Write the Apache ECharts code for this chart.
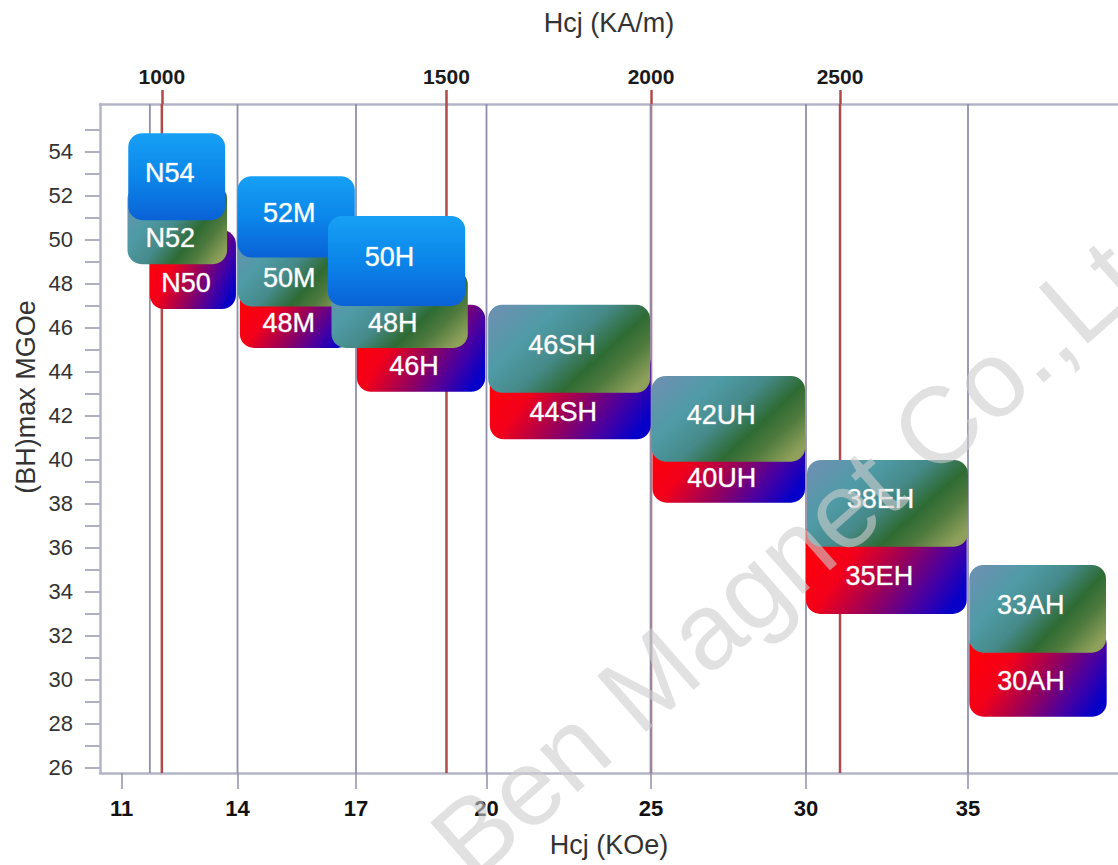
<!DOCTYPE html>
<html>
<head>
<meta charset="utf-8">
<script src="https://cdn.jsdelivr.net/npm/echarts@6/dist/echarts.min.js"></script>
<style>
  html, body { margin: 0; padding: 0; background: #ffffff; }
  #chart { width: 1118px; height: 865px; }
</style>
</head>
<body>
<div id="chart"></div>
<script>
// ---------- data ----------
// bottom axis: Hcj (kOe) tick labels
const X_TICK_LABELS = [11, 14, 17, 20, 25, 30, 35];
// the original chart's Hcj scale is non-linear: relative spacing of those ticks
const X_SCALE = [0, 115.8, 234.3, 364.8, 529.3, 684.3, 846.3];
// left axis: (BH)max MGOe
const Y_TICK_LABELS = [26, 28, 30, 32, 34, 36, 38, 40, 42, 44, 46, 48, 50, 52, 54];
const Y_MINOR_TICKS = [27, 29, 31, 33, 35, 37, 39, 41, 43, 45, 47, 49, 51, 53, 55];
// top axis: Hcj (KA/m) labels and where they sit on the kOe scale
const KAM_LABELS = [1000, 1500, 2000, 2500];
const KAM_AT_KOE = [12.04, 19.08, 25.0, 31.05];
// vertical guide lines (kOe)
const GUIDE_KOE = [11.73, 14, 17, 20, 25, 30, 35];

// grades, lowest band of each column
const lowGrades = ['N50', '48M', '46H', '44SH', '40UH', '35EH', '30AH'];
const lowHcjMin = [11.73, 14.06, 17.02, 20.10, 25.05, 30.00, 35.04];
const lowHcjMax = [13.96, 16.89, 19.97, 24.99, 29.97, 34.96, 39.28];
const lowBhMin  = [46.86, 45.09, 43.10, 40.94, 38.06, 33.00, 28.33];
const lowBhMax  = [50.45, 47.95, 47.05, 45.00, 41.80, 37.27, 32.27];

// grades, middle band
const midGrades = ['N52', '50M', '48H', '46SH', '42UH', '38EH', '33AH'];
const midHcjMin = [11.15, 14.01, 16.38, 20.05, 25.02, 30.03, 35.04];
const midHcjMax = [13.73, 16.97, 19.57, 24.97, 29.97, 35.00, 39.26];
const midBhMin  = [48.90, 46.97, 45.09, 43.05, 39.92, 36.06, 31.24];
const midBhMax  = [52.50, 50.60, 48.60, 47.05, 43.82, 40.00, 35.23];

// grades, top band
const topGrades = ['N54', '52M', '50H'];
const topHcjMin = [11.17, 14.00, 16.29];
const topHcjMax = [13.68, 16.97, 19.51];
const topBhMin  = [50.90, 49.20, 47.00];
const topBhMax  = [54.85, 52.90, 51.09];

// ---------- scale helpers ----------
function xs(h) {
  const k = X_TICK_LABELS, s = X_SCALE;
  let i;
  if (h <= k[0]) i = 0;
  else if (h >= k[k.length - 1]) i = k.length - 2;
  else { i = 0; while (h > k[i + 1]) i++; }
  return s[i] + (h - k[i]) * (s[i + 1] - s[i]) / (k[i + 1] - k[i]);
}
const X_MIN = -21.7, X_MAX = 996.3;
const Y_MIN = 25.77, Y_MAX = 56.18;

const FONT = '"Liberation Sans", Arial, sans-serif';
const FRAME = '#b4b4c8';

// all boxes in drawing order
const groups = [
  { names: lowGrades, a: lowHcjMin, b: lowHcjMax, c: lowBhMin, d: lowBhMax, kind: 'low' },
  { names: midGrades, a: midHcjMin, b: midHcjMax, c: midBhMin, d: midBhMax, kind: 'mid' },
  { names: topGrades, a: topHcjMin, b: topHcjMax, c: topBhMin, d: topBhMax, kind: 'top' }
];
const allBoxes = [];
groups.forEach(g => g.names.forEach((n, i) => allBoxes.push({ name: n, x0: g.a[i], x1: g.b[i], y0: g.c[i], y1: g.d[i], kind: g.kind })));
// label sits in the visible (uncovered) part of each box
allBoxes.forEach((bx, i) => {
  const cx = (bx.x0 + bx.x1) / 2;
  let vt = bx.y1;
  for (let j = i + 1; j < allBoxes.length; j++) {
    const o = allBoxes[j];
    if (cx > o.x0 && cx < o.x1 && o.y0 < vt && o.y0 > bx.y0 && o.y1 >= vt) vt = o.y0;
  }
  bx.ly = (bx.y0 + vt) / 2;
});

const FILLS = {
  top: { type: 'linear', x: 0, y: 0, x2: 0, y2: 1, colorStops: [
    { offset: 0, color: '#16a0f4' }, { offset: 0.5, color: '#0b86ea' }, { offset: 1, color: '#0a62d6' } ] },
  mid: { type: 'linear', x: 0, y: 0.2, x2: 1, y2: 0.8, colorStops: [
    { offset: 0, color: '#6892b0' }, { offset: 0.25, color: '#4f9ba6' }, { offset: 0.47, color: '#468a8a' },
    { offset: 0.68, color: '#2e6b33' }, { offset: 0.82, color: '#4f7a3e' }, { offset: 1, color: '#8ea05a' } ] },
  low: { type: 'linear', x: 0, y: 0.3, x2: 1, y2: 0.7, colorStops: [
    { offset: 0, color: '#ff0008' }, { offset: 0.28, color: '#f2001a' }, { offset: 0.55, color: '#9a0058' },
    { offset: 0.8, color: '#4a00a0' }, { offset: 1, color: '#0600c8' } ] }
};

function boxSeries(kind) {
  const items = allBoxes.filter(b => b.kind === kind);
  return {
    type: 'custom',
    name: kind,
    silent: true,
    encode: { x: [0, 1], y: [2, 3, 4] },
    data: items.map(b => ({ name: b.name, value: [xs(b.x0), xs(b.x1), b.y0, b.y1, b.ly] })),
    renderItem: function (params, api) {
      const p1 = api.coord([api.value(0), api.value(3)]);
      const p2 = api.coord([api.value(1), api.value(2)]);
      const pl = api.coord([api.value(0), api.value(4)]);
      const name = items[params.dataIndex].name;
      return {
        type: 'group',
        children: [
          { type: 'rect', shape: { x: p1[0], y: p1[1], width: p2[0] - p1[0], height: p2[1] - p1[1], r: 14 },
            style: { fill: FILLS[kind] } },
          { type: 'text', x: (p1[0] + p2[0]) / 2 - 7, y: pl[1] - 4,
            style: { text: name, fill: '#ffffff', fontSize: 27, fontFamily: FONT,
                     stroke: 'rgba(255,255,255,0.55)', lineWidth: 0.7,
                     align: 'center', verticalAlign: 'middle', textAlign: 'center', textVerticalAlign: 'middle' } }
        ]
      };
    }
  };
}

function vLineSeries(values, color, width) {
  return {
    type: 'custom',
    silent: true,
    encode: { x: 0, y: 1 },
    data: values.map(v => [xs(v), 40]),
    renderItem: function (params, api) {
      const p = api.coord([api.value(0), api.value(1)]);
      const cs = params.coordSys;
      return { type: 'line', shape: { x1: p[0], y1: cs.y, x2: p[0], y2: cs.y + cs.height },
               style: { stroke: color, lineWidth: width } };
    }
  };
}

function lookup(list, posList, v) {
  for (let i = 0; i < list.length; i++) if (Math.abs(posList[i] - v) < 1e-6) return String(list[i]);
  return '';
}

const bottomPos = X_TICK_LABELS.map(xs);
const topPos = KAM_AT_KOE.map(xs);

const chart = echarts.init(document.getElementById('chart'), null, { renderer: 'svg' });
chart.setOption({
  animation: false,
  backgroundColor: '#ffffff',
  grid: { left: 100, right: 0, top: 104, bottom: 92, show: false },
  xAxis: [
    {
      type: 'value', position: 'bottom', min: X_MIN, max: X_MAX,
      axisLine: { show: true, onZero: false, lineStyle: { color: FRAME, width: 2.5 } },
      axisTick: { show: true, customValues: bottomPos, length: 16, lineStyle: { color: '#9090ac', width: 1.5 } },
      axisLabel: { customValues: bottomPos, formatter: v => lookup(X_TICK_LABELS, bottomPos, v),
                   fontFamily: FONT, fontSize: 22, fontWeight: 'bold', color: '#111', margin: 24 },
      splitLine: { show: false },
      name: 'Hcj (KOe)', nameLocation: 'middle', nameGap: 58,
      nameTextStyle: { fontFamily: FONT, fontSize: 27, color: '#333' }
    },
    {
      type: 'value', position: 'top', min: X_MIN, max: X_MAX,
      axisLine: { show: true, onZero: false, lineStyle: { color: FRAME, width: 2.5 } },
      axisTick: { show: true, customValues: topPos, length: 14, lineStyle: { color: '#b04a4a', width: 2.5 } },
      axisLabel: { customValues: topPos, formatter: v => lookup(KAM_LABELS, topPos, v),
                   fontFamily: FONT, fontSize: 21, fontWeight: 'bold', color: '#1a1a1a', margin: 17 },
      splitLine: { show: false },
      name: 'Hcj (KA/m)', nameLocation: 'middle', nameGap: 68,
      nameTextStyle: { fontFamily: FONT, fontSize: 27, color: '#333' }
    }
  ],
  yAxis: {
    type: 'value', min: Y_MIN, max: Y_MAX,
    axisLine: { show: true, onZero: false, lineStyle: { color: FRAME, width: 2.5 } },
    axisTick: { show: true, customValues: Y_TICK_LABELS.concat(Y_MINOR_TICKS), length: 15,
                lineStyle: { color: '#b0b0c4', width: 2 } },
    axisLabel: { customValues: Y_TICK_LABELS, fontFamily: FONT, fontSize: 22, color: '#333', margin: 27 },
    splitLine: { show: false }
  },
  graphic: [
    { type: 'text', x: 26, y: 397, rotation: Math.PI / 2,
      style: { text: '(BH)max MGOe', fontFamily: FONT, fontSize: 27, fill: '#333',
               align: 'center', verticalAlign: 'middle', textAlign: 'center', textVerticalAlign: 'middle' } },
    { type: 'text', x: 448, y: 856, rotation: 41.3 * Math.PI / 180, z: 100, silent: true,
      style: { text: 'Ben Magnet Co.,Ltd', fontFamily: FONT, fontSize: 108, fill: 'rgba(205,205,205,0.6)',
               align: 'left', verticalAlign: 'middle', textAlign: 'left', textVerticalAlign: 'middle' } }
  ],
  series: [
    vLineSeries(KAM_AT_KOE, '#b04a4a', 2.5),
    vLineSeries(GUIDE_KOE, '#9090ac', 1.8),
    boxSeries('low'),
    boxSeries('mid'),
    boxSeries('top')
  ]
});
</script>
</body>
</html>
